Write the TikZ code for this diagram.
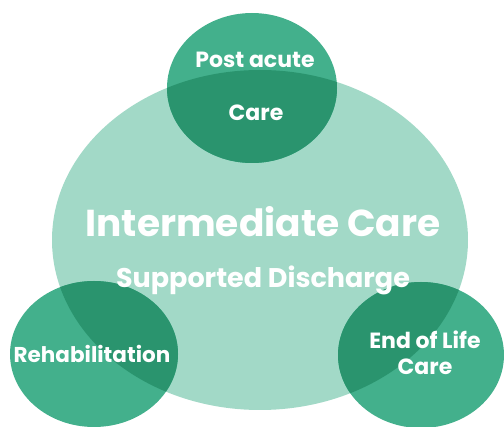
\documentclass[tikz,border=0pt]{standalone}
\usepackage{fontspec}
\setmainfont{Poppins}
\definecolor{bigc}{HTML}{A2D9C7}
\definecolor{smallc}{HTML}{43B08C}
\definecolor{overc}{HTML}{2A946E}
\begin{document}
\begin{tikzpicture}[x=1pt,y=-1pt,
  lbl/.style={text=white,font=\bfseries,inner sep=0pt,align=center},
  small/.style={lbl,font=\bfseries\fontsize{22}{26}\selectfont}]
\useasboundingbox (0,0) rectangle (504,427);
\def\big{(260,240) ellipse [x radius=208,y radius=170]}
\def\ctop{(252,88) ellipse [x radius=85,y radius=75]}
\def\cleft{(94,354) ellipse [x radius=84,y radius=73]}
\def\cright{(421,355) ellipse [x radius=83,y radius=73]}
\fill[bigc] \big;
\fill[smallc] \ctop;
\fill[smallc] \cleft;
\fill[smallc] \cright;
\begin{scope}\clip \big; \fill[overc] \ctop; \fill[overc] \cleft; \fill[overc] \cright;\end{scope}
\node[small] (pa) at (255,60) {Post acute};
\node[small] (pc) at (256,113) {Care};
\node[lbl,font=\bfseries\fontsize{37.5}{44}\selectfont] (ic) at (263,222) {Intermediate Care};
\node[lbl,font=\bfseries\fontsize{27}{32}\selectfont] (sd) at (263,280) {Supported Discharge};
\node[lbl,font=\bfseries\fontsize{21.5}{26}\selectfont] (rh) at (92,354) {Rehabilitation};
\node[small] (el) at (425,340) {End of Life};
\node[small] (ec) at (425,367) {Care};
\end{tikzpicture}
\end{document}
